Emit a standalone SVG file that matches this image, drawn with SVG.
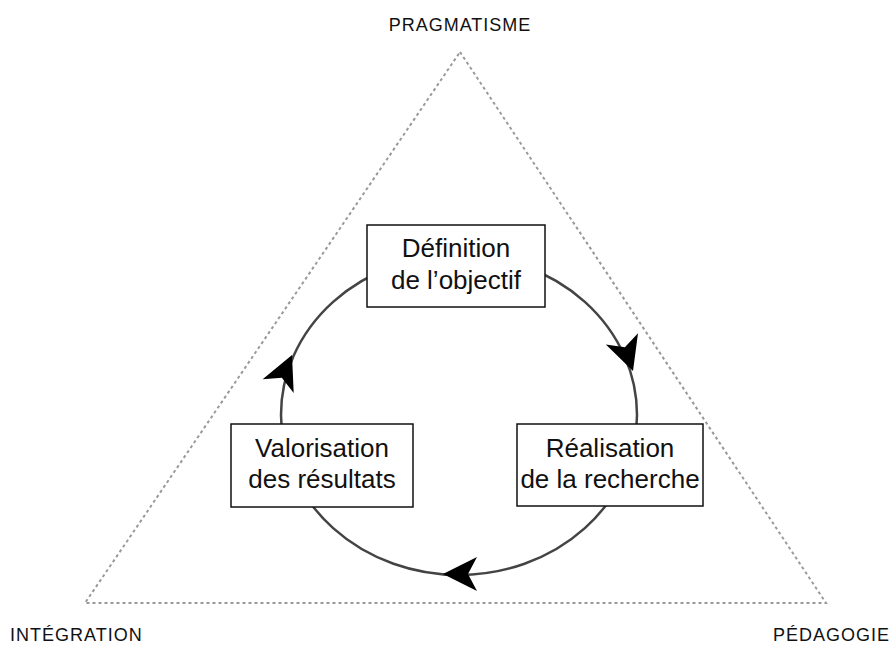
<svg xmlns="http://www.w3.org/2000/svg" width="896" height="645" viewBox="0 0 896 645">
<style>
.lbl{font-family:"Liberation Sans",Arial,sans-serif;font-size:18px;letter-spacing:1px;fill:#111}
.box{fill:#fff;stroke:#111;stroke-width:1.5}
.bt{font-family:"Liberation Sans",Arial,sans-serif;font-size:26px;fill:#111;text-anchor:middle}
.tri{fill:none;stroke:#999;stroke-width:2;stroke-dasharray:3 3}
.cyc{fill:none;stroke:#444;stroke-width:2.5}
.ah{fill:#000}
</style>
<defs>
<path id="head" d="M0,0 L-34,-17 L-25,0 L-34,17 Z"/>
</defs>
<g id="triangle">
<polygon class="tri" points="460,52 826,603 85,603"/>
</g>
<g id="labels">
<text class="lbl" x="460" y="31" text-anchor="middle">PRAGMATISME</text>
<text class="lbl" x="10" y="641">INTÉGRATION</text>
<text class="lbl" x="890" y="641" text-anchor="end">PÉDAGOGIE</text>
</g>
<g id="connectors">
<ellipse class="cyc" cx="459" cy="415" rx="178" ry="160"/>
<use href="#head" class="ah" transform="translate(633,371) rotate(71)"/>
<use href="#head" class="ah" transform="translate(443,574) rotate(180)"/>
<use href="#head" class="ah" transform="translate(292,355) rotate(-66)"/>
</g>
<g id="node-definition">
<rect class="box" x="367" y="225" width="178" height="82"/>
<text class="bt" x="456" y="257">Définition</text>
<text class="bt" x="456" y="289">de l’objectif</text>
</g>
<g id="node-realisation">
<rect class="box" x="517" y="424" width="186" height="82"/>
<text class="bt" x="610" y="457">Réalisation</text>
<text class="bt" x="610" y="488">de la recherche</text>
</g>
<g id="node-valorisation">
<rect class="box" x="231" y="424" width="182" height="83"/>
<text class="bt" x="322" y="457">Valorisation</text>
<text class="bt" x="322" y="488">des résultats</text>
</g>
</svg>
